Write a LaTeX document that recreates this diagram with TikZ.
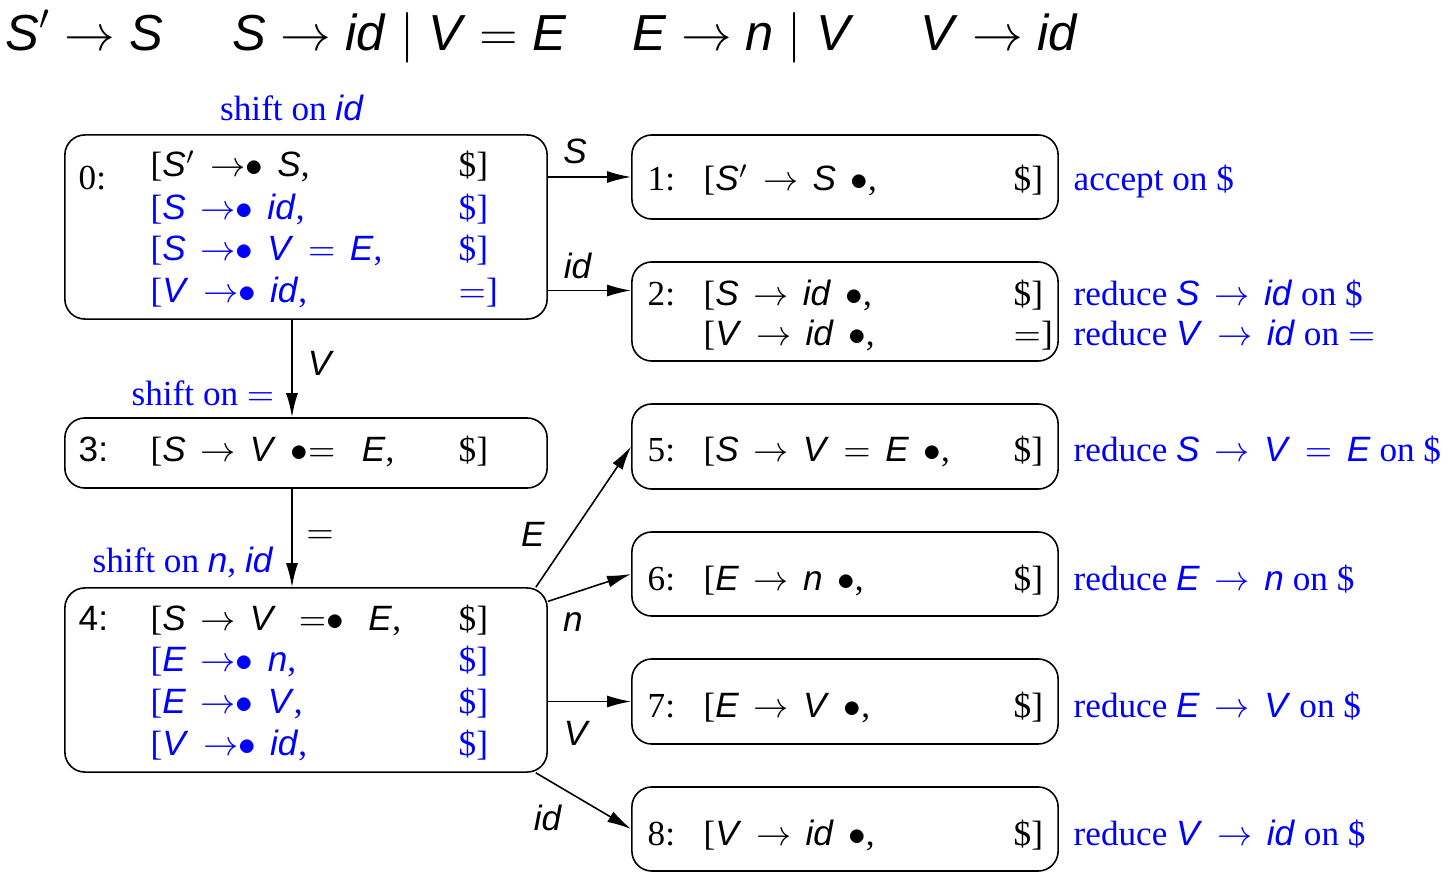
\documentclass[tikz,border=0pt]{standalone}
\usepackage{fontspec}
\setmainfont{Liberation Serif}
\setsansfont{Liberation Sans}
\usetikzlibrary{arrows.meta}
\newcommand\sv[1]{\textsf{\textit{#1}}}
\newcommand\dl{\$]}
\newcommand\itemfont{\spaceskip=.41em plus .1em\relax}
\newcommand\actfont{\thickmuskip=7.5mu plus 2mu\relax}
\tikzset{
    state/.style={draw, rounded corners=2mm, line width=.45pt, inner sep=0mm},
    item/.style={anchor=base west, inner sep=0mm, font=\itemfont},
    gram/.style={anchor=base west, inner sep=0mm, font=\Large},
    lbl/.style={inner sep=0mm},
    act/.style={inner sep=0mm, text=blue, font=\actfont},
    edge/.style={-{Latex[length=2.4mm,width=1.2mm]}, line width=.45pt}
}

\begin{document}
\begin{tikzpicture}[x=0.01cm, y=-0.01cm]
  \useasboundingbox (0,0) rectangle (1454,888);

  % grammar
  \node (g1) [gram] at (5,51) {$\sv{S}'\rightarrow \sv{S}$};
  \node (g2) [gram] at (232,51) {$\sv{S}\rightarrow \sv{id} \mid \sv{V} = \sv{E}$};
  \node (g3) [gram] at (632,51) {$\sv{E}\rightarrow \sv{n} \mid \sv{V}$};
  \node (g4) [gram] at (920,51) {$\sv{V}\rightarrow \sv{id}$};

  % states
  \node (s0) [state, minimum width=4.82cm, minimum height=1.84cm] at (306,227) {};
  \node (s1) [state, minimum width=4.26cm, minimum height=0.84cm] at (845,177) {};
  \node (s2) [state, minimum width=4.26cm, minimum height=0.99cm] at (845,311.5) {};
  \node (s3) [state, minimum width=4.82cm, minimum height=0.70cm] at (306,453) {};
  \node (s4) [state, minimum width=4.82cm, minimum height=1.84cm] at (306,680) {};
  \node (s5) [state, minimum width=4.26cm, minimum height=0.85cm] at (845,446.5) {};
  \node (s6) [state, minimum width=4.26cm, minimum height=0.84cm] at (845,574) {};
  \node (s7) [state, minimum width=4.26cm, minimum height=0.85cm] at (845,701.5) {};
  \node (s8) [state, minimum width=4.26cm, minimum height=0.84cm] at (845,829) {};

  % state 0
  \node (n0) [item] at (78,190) {0:};
  \node (i01) [item] at (150,177) {[\sv{S}$'$ $\rightarrow$$\bullet$ \sv{S},};
  \node (i02) [item, text=blue] at (150,219) {[\sv{S} $\rightarrow$$\bullet$ \sv{id},};
  \node (i03) [item, text=blue] at (150,261) {[\sv{S} $\rightarrow$$\bullet$ \sv{V} $=$ \sv{E},};
  \node (i04) [item, text=blue] at (150,303) {[\sv{V} $\rightarrow$$\bullet$ \sv{id},};
  \node (l01) [item] at (458,177) {\dl};
  \node (l02) [item, text=blue] at (458,219) {\dl};
  \node (l03) [item, text=blue] at (458,261) {\dl};
  \node (l04) [item, text=blue] at (458,303) {$=$]};

  % state 1 and 2
  \node (n1) [item] at (647,191) {1:};
  \node (i11) [item] at (703,191) {[\sv{S}$'$ $\rightarrow$ \sv{S} $\bullet$,};
  \node (l11) [item] at (1013,191) {\dl};
  \node (n2) [item] at (647,306) {2:};
  \node (i21) [item] at (703,306) {[\sv{S} $\rightarrow$ \sv{id} $\bullet$,};
  \node (i22) [item] at (703,346) {[\sv{V} $\rightarrow$ \sv{id} $\bullet$,};
  \node (l21) [item] at (1013,306) {\dl};
  \node (l22) [item] at (1013,346) {$=$]};

  % state 3
  \node (n3) [item] at (78,462) {\textsf{3:}};
  \node (i31) [item] at (150,462) {[\sv{S} $\rightarrow$ \sv{V} $\bullet$$=$\hspace{.75em}\sv{E},};
  \node (l31) [item] at (458,462) {\dl};

  % state 4
  \node (n4) [item] at (78,630) {\textsf{4:}};
  \node (i41) [item] at (150,630) {[\sv{S} $\rightarrow$ \sv{V}\hspace{.65em}$=$$\bullet$\hspace{.7em}\sv{E},};
  \node (i42) [item, text=blue] at (150,671) {[\sv{E} $\rightarrow$$\bullet$ \sv{n},};
  \node (i43) [item, text=blue] at (150,713) {[\sv{E} $\rightarrow$$\bullet$ \sv{V},};
  \node (i44) [item, text=blue] at (150,755) {[\sv{V} $\rightarrow$$\bullet$ \sv{id},};
  \node (l41) [item] at (458,630) {\dl};
  \node (l42) [item, text=blue] at (458,671) {\dl};
  \node (l43) [item, text=blue] at (458,713) {\dl};
  \node (l44) [item, text=blue] at (458,755) {\dl};

  % states 5 to 8
  \node (n5) [item] at (647,462) {5:};
  \node (i51) [item] at (703,462) {[\sv{S} $\rightarrow$ \sv{V} $=$ \sv{E} $\bullet$,};
  \node (l51) [item] at (1013,462) {\dl};
  \node (n6) [item] at (647,590) {6:};
  \node (i61) [item] at (703,590) {[\sv{E} $\rightarrow$ \sv{n} $\bullet$,};
  \node (l61) [item] at (1013,590) {\dl};
  \node (n7) [item] at (647,717) {7:};
  \node (i71) [item] at (703,717) {[\sv{E} $\rightarrow$ \sv{V} $\bullet$,};
  \node (l71) [item] at (1013,717) {\dl};
  \node (n8) [item] at (647,845) {8:};
  \node (i81) [item] at (703,845) {[\sv{V} $\rightarrow$ \sv{id} $\bullet$,};
  \node (l81) [item] at (1013,845) {\dl};

  % actions
  \node (a0) [act] at (292,108) {shift on \sv{id}};
  \node (a3) [act] at (203,393) {shift on $=$};
  \node (a4) [act] at (183,562) {shift on \sv{n}, \sv{id}};
  \node (a1) [act, anchor=base west] at (1073,191) {accept on \$};
  \node (a21) [act, anchor=base west] at (1073,306) {reduce $\sv{S} \rightarrow \sv{id}$ on \$};
  \node (a22) [act, anchor=base west] at (1073,346) {reduce $\sv{V} \rightarrow \sv{id}$ on $=$};
  \node (a5) [act, anchor=base west] at (1073,462) {reduce $\sv{S} \rightarrow \sv{V} = \sv{E}$ on \$};
  \node (a6) [act, anchor=base west] at (1073,590) {reduce $\sv{E} \rightarrow \sv{n}$ on \$};
  \node (a7) [act, anchor=base west] at (1073,717) {reduce $\sv{E} \rightarrow \sv{V}$ on \$};
  \node (a8) [act, anchor=base west] at (1073,845) {reduce $\sv{V} \rightarrow \sv{id}$ on \$};

  % transitions
  \coordinate (e2) at ([yshift=2.1mm]s2.west);
  \coordinate (e3) at ([xshift=-1.4mm]s3.north);
  \draw[edge] (s0.east |- s1.west) -- (s1.west);
  \draw[edge] (s0.east |- e2) -- (e2);
  \draw[edge] (s0.south -| e3) -- (e3);
  \draw[edge] (s3.south -| e3) -- (s4.north -| e3);
  \draw[edge] (s4.22) -- (s5.west);
  \draw[edge] (s4.18) -- (s6.west);
  \draw[edge] (s4.east |- s7.west) -- (s7.west);
  \draw[edge] (s4.-22) -- (s8.west);

  \node (tS) [lbl] at (575,151) {\sv{S}};
  \node (tid) [lbl] at (578,266) {\sv{id}};
  \node (tV) [lbl] at (321,363) {\sv{V}};
  \node (teq) [lbl] at (320,537) {$=$};
  \node (tE) [lbl] at (533,534) {\sv{E}};
  \node (tn) [lbl] at (573,622) {\sv{n}};
  \node (tV2) [lbl] at (577,733) {\sv{V}};
  \node (tid2) [lbl] at (548,818) {\sv{id}};
\end{tikzpicture}
\end{document}
